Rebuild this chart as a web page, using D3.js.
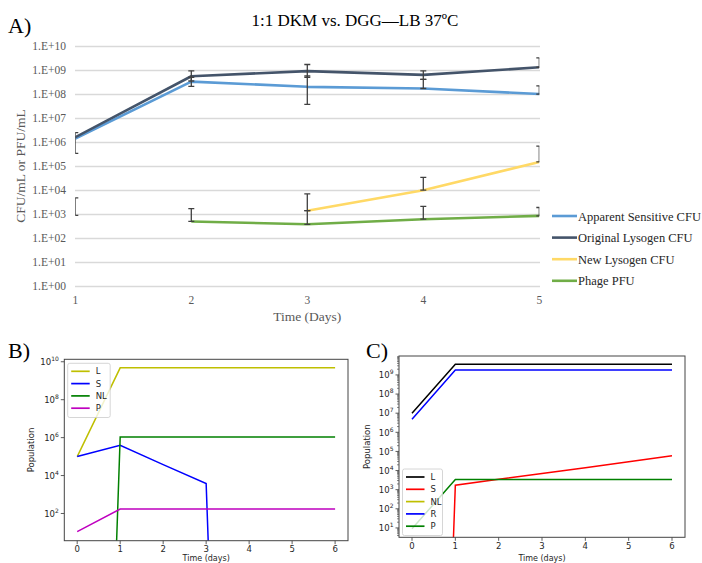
<!DOCTYPE html>
<html>
<head>
<meta charset="utf-8">
<script src="https://cdn.jsdelivr.net/npm/d3@7"></script>
<style>
  body { margin: 0; background: #fff; }
  svg { display: block; }
</style>
</head>
<body>
<div id="graph"></div>
<script>
// ---- panel A data (Excel chart) ----
var daysA = [1, 2, 3, 4, 5];
var sensitiveCFU = [1.4e6, 3.3e8, 2.0e8, 1.7e8, 1.0e8];
var lysogenCFU   = [1.6e6, 5.5e8, 9.0e8, 6.3e8, 1.3e9];
var newLysCFU    = [null, null, 1.4e3, 1.0e4, 1.5e5];
var phagePFU     = [null, 5.0e2, 3.8e2, 6.2e2, 8.5e2];
var seriesNamesA = ["Apparent Sensitive CFU", "Original Lysogen CFU", "New Lysogen CFU", "Phage PFU"];
var yTicksA = [1, 1e1, 1e2, 1e3, 1e4, 1e5, 1e6, 1e7, 1e8, 1e9, 1e10];

// error bars: day, low, high
var errDay  = [1, 1, 2, 2, 2, 3, 3, 3, 3, 4, 4, 4, 4, 5, 5, 5, 5];
var errLow  = [3.4e5, 9.0e2, 3.5e8, 2.1e8, 5.0e2, 5.0e8, 3.7e7, 1.4e3, 3.8e2, 4.1e8, 1.7e8, 1.0e4, 6.2e2, 1.3e9, 1.0e8, 1.5e5, 8.5e2];
var errHigh = [2.5e6, 4.8e3, 9.3e8, 5.0e8, 1.7e3, 1.7e9, 5.7e8, 7.0e3, 1.4e3, 9.3e8, 4.1e8, 3.4e4, 2.1e3, 3.2e9, 2.2e8, 6.8e5, 1.9e3];

// ---- panel B data (model, no resistance) ----
var daysB = [0, 1, 2, 3, 4, 5, 6];
var bL  = [1e5, 4.8e9, 4.8e9, 4.8e9, 4.8e9, 4.8e9, 4.8e9];
var bS  = [1e5, 3.9e5, 3.8e4, 3.8e3, 0, 0, 0];
var bNL = [0, 1.07e6, 1.07e6, 1.07e6, 1.07e6, 1.07e6, 1.07e6];
var bP  = [11, 170, 170, 170, 170, 170, 170];

// ---- panel C data (model with resistance) ----
var daysC = [0, 1, 2, 3, 4, 5, 6];
var cL  = [1e7, 3.6e9, 3.6e9, 3.6e9, 3.6e9, 3.6e9, 3.6e9];
var cS  = [0, 1.7e3, 3.5e3, 7.1e3, 1.4e4, 2.9e4, 5.9e4];
var cNL = [0, 0, 0, 0, 0, 0, 0];
var cR  = [4.8e6, 1.8e9, 1.8e9, 1.8e9, 1.8e9, 1.8e9, 1.8e9];
var cP  = [9, 3.4e3, 3.4e3, 3.4e3, 3.4e3, 3.4e3, 3.4e3];

var width = 702, height = 563;
var svg = d3.select("#graph").append("svg")
            .attr("width", width)
            .attr("height", height);
var defs = svg.append("defs");

/* ================= Panel A ================= */
var serif = "'Liberation Serif', 'Times New Roman', serif";
var xA = d3.scaleLinear().domain([1, 5]).range([75.3, 539.3]);
var yA = d3.scaleLog().domain([1, 1e10]).range([286.3, 46]);

svg.append("text").attr("x", 8).attr("y", 33)
   .style("font-family", serif).style("font-size", "22px").text("A)");
svg.append("text").attr("x", 355).attr("y", 26).attr("text-anchor", "middle")
   .style("font-family", serif).style("font-size", "17px").text("1:1 DKM vs. DGG\u2014LB 37\u00baC");

// grid
svg.append("g").selectAll("line").data(yTicksA).enter().append("line")
   .attr("x1", 75).attr("x2", 540)
   .attr("y1", function(d) { return Math.round(yA(d)) + 0.5; })
   .attr("y2", function(d) { return Math.round(yA(d)) + 0.5; })
   .style("stroke", "#d9d9d9").style("stroke-width", 1.3);

svg.append("g").selectAll("text").data(yTicksA).enter().append("text")
   .attr("x", 66).attr("y", function(d) { return yA(d) + 4; })
   .attr("text-anchor", "end")
   .style("font-family", serif).style("font-size", "11.5px").style("fill", "#595959")
   .text(function(d) { var e = Math.round(Math.log10(d)); return "1.E+" + (e < 10 ? "0" + e : e); });

svg.append("g").selectAll("text").data(daysA).enter().append("text")
   .attr("x", function(d) { return xA(d); }).attr("y", 304)
   .attr("text-anchor", "middle")
   .style("font-family", serif).style("font-size", "11.5px").style("fill", "#595959")
   .text(function(d) { return d; });

svg.append("text").attr("x", xA(3)).attr("y", 321).attr("text-anchor", "middle")
   .style("font-family", serif).style("font-size", "13.5px").style("fill", "#595959")
   .text("Time (Days)");
svg.append("text").attr("transform", "translate(25,166) rotate(-90)").attr("text-anchor", "middle")
   .style("font-family", serif).style("font-size", "13.5px").style("fill", "#595959")
   .text("CFU/mL or PFU/mL");

defs.append("clipPath").attr("id", "clipA").append("rect")
    .attr("x", xA(1)).attr("y", 30).attr("width", xA(5) - xA(1)).attr("height", 270);

var gA = svg.append("g").attr("clip-path", "url(#clipA)");
var colorsA = ["#5b9bd5", "#44546a", "#ffd966", "#70ad47"];
var valsA = [sensitiveCFU, lysogenCFU, newLysCFU, phagePFU];

var lineA = d3.line()
    .defined(function(d) { return d[1] != null; })
    .x(function(d) { return xA(d[0]); })
    .y(function(d) { return yA(d[1]); });

valsA.forEach(function(v, i) {
  gA.append("path")
    .datum(daysA.map(function(d, j) { return [d, v[j]]; }))
    .attr("d", lineA)
    .style("fill", "none").style("stroke", colorsA[i])
    .style("stroke-width", 2.6).style("stroke-linejoin", "round");
});

var eb = gA.append("g").style("stroke", "#404040").style("stroke-width", 1.3);
errDay.forEach(function(d, i) {
  var x = xA(d), y1 = yA(errLow[i]), y2 = yA(errHigh[i]);
  eb.append("line").attr("x1", x).attr("x2", x).attr("y1", y1).attr("y2", y2);
  eb.append("line").attr("x1", x - 3).attr("x2", x + 3).attr("y1", y1).attr("y2", y1);
  eb.append("line").attr("x1", x - 3).attr("x2", x + 3).attr("y1", y2).attr("y2", y2);
});

var legA = svg.append("g");
seriesNamesA.forEach(function(n, i) {
  var y = 216 + i * 21.6;
  legA.append("line").attr("x1", 552).attr("x2", 577).attr("y1", y).attr("y2", y)
      .style("stroke", colorsA[i]).style("stroke-width", 2.6);
  legA.append("text").attr("x", 578).attr("y", y + 4.5)
      .style("font-family", serif).style("font-size", "12.5px").style("fill", "#262626")
      .text(n);
});

/* ============ Panels B and C (matplotlib style) ============ */
var sans = "'DejaVu Sans', sans-serif";

function superLabel(sel, e) {
  sel.text("10");
  sel.append("tspan").attr("dy", -4).style("font-size", "6px").text(e);
}

function mplPanel(opt) {
  var x = d3.scaleLinear().domain([-0.3, 6.3]).range([opt.left, opt.right]);
  var y = d3.scaleLog().domain(opt.ydom).range([opt.bottom, opt.top]);
  var g = svg.append("g");

  defs.append("clipPath").attr("id", opt.id).append("rect")
      .attr("x", opt.left).attr("y", opt.top)
      .attr("width", opt.right - opt.left).attr("height", opt.bottom - opt.top);

  var line = d3.line()
      .x(function(d) { return x(d[0]); })
      .y(function(d) { return y(Math.max(d[1], 1e-60)); });

  var plot = g.append("g").attr("clip-path", "url(#" + opt.id + ")");
  opt.series.forEach(function(s, i) {
    plot.append("path")
      .datum(opt.days.map(function(d, j) { return [d, s[j]]; }))
      .attr("d", line)
      .style("fill", "none").style("stroke", opt.colors[i]).style("stroke-width", 1.5);
  });

  // minor ticks
  if (opt.minor) {
    var minors = [];
    for (var e = 0; e < 10; e++) for (var m = 2; m < 10; m++) {
      var v = m * Math.pow(10, e);
      if (v > opt.ydom[0] && v < opt.ydom[1]) minors.push(v);
    }
    g.append("g").selectAll("line").data(minors).enter().append("line")
     .attr("x1", opt.left - 2).attr("x2", opt.left)
     .attr("y1", function(d) { return y(d); }).attr("y2", function(d) { return y(d); })
     .style("stroke", "#333").style("stroke-width", 0.6);
  }

  // y major ticks
  g.append("g").selectAll("line").data(opt.yticks).enter().append("line")
   .attr("x1", opt.left - 3.5).attr("x2", opt.left)
   .attr("y1", function(d) { return y(d); }).attr("y2", function(d) { return y(d); })
   .style("stroke", "#333").style("stroke-width", 0.8);
  g.append("g").selectAll("text").data(opt.yticks).enter().append("text")
   .attr("x", opt.left - 5.5).attr("y", function(d) { return y(d) + 3.2; })
   .attr("text-anchor", "end")
   .style("font-family", sans).style("font-size", "8.5px").style("fill", "#262626")
   .each(function(d) { superLabel(d3.select(this), Math.round(Math.log10(d))); });

  // x ticks
  g.append("g").selectAll("line").data(opt.days).enter().append("line")
   .attr("x1", function(d) { return x(d); }).attr("x2", function(d) { return x(d); })
   .attr("y1", opt.bottom).attr("y2", opt.bottom + 3.5)
   .style("stroke", "#333").style("stroke-width", 0.8);
  g.append("g").selectAll("text").data(opt.days).enter().append("text")
   .attr("x", function(d) { return x(d); }).attr("y", opt.bottom + 11.5)
   .attr("text-anchor", "middle")
   .style("font-family", sans).style("font-size", "8.5px").style("fill", "#262626")
   .text(function(d) { return d; });

  g.append("rect").attr("x", opt.left).attr("y", opt.top)
   .attr("width", opt.right - opt.left).attr("height", opt.bottom - opt.top)
   .style("fill", "none").style("stroke", "#444").style("stroke-width", 1);

  g.append("text").attr("x", (opt.left + opt.right) / 2).attr("y", 561)
   .attr("text-anchor", "middle")
   .style("font-family", sans).style("font-size", "8px").style("fill", "#262626")
   .text("Time (days)");
  g.append("text")
   .attr("transform", "translate(" + opt.ylabX + "," + ((opt.top + opt.bottom) / 2) + ") rotate(-90)")
   .attr("text-anchor", "middle")
   .style("font-family", sans).style("font-size", "8.5px").style("fill", "#262626")
   .text("Population");

  // legend
  var lg = g.append("g");
  lg.append("rect").attr("x", opt.legX).attr("y", opt.legY)
    .attr("width", opt.legW).attr("height", opt.names.length * 12.3 + 5).attr("rx", 2)
    .style("fill", "#fff").style("fill-opacity", 0.8)
    .style("stroke", "#cccccc").style("stroke-width", 0.8);
  opt.names.forEach(function(n, i) {
    var ly = opt.legY + 8 + i * 12.3;
    lg.append("line").attr("x1", opt.legX + 3.5).attr("x2", opt.legX + 22)
      .attr("y1", ly).attr("y2", ly)
      .style("stroke", opt.colors[i]).style("stroke-width", 1.7);
    lg.append("text").attr("x", opt.legX + 28).attr("y", ly + 3)
      .style("font-family", sans).style("font-size", "8.5px").style("fill", "#262626")
      .text(n);
  });

  svg.append("text").attr("x", opt.tagX).attr("y", 358)
     .style("font-family", serif).style("font-size", "22px").text(opt.tag);
}

mplPanel({
  id: "clipB", tag: "B)", tagX: 8,
  left: 64.3, right: 348, top: 359.3, bottom: 540.7,
  ydom: [Math.pow(10, 0.565), Math.pow(10, 10.13)],
  yticks: [1e2, 1e4, 1e6, 1e8, 1e10], minor: false,
  days: daysB, series: [bL, bS, bNL, bP],
  names: ["L", "S", "NL", "P"],
  colors: ["#bfbf00", "#0000ff", "#008000", "#bf00bf"],
  legX: 67.7, legY: 363.3, legW: 42.5, ylabX: 34
});

mplPanel({
  id: "clipC", tag: "C)", tagX: 366,
  left: 399, right: 685, top: 356, bottom: 537.3,
  ydom: [Math.pow(10, 0.51), Math.pow(10, 9.99)],
  yticks: [1e1, 1e2, 1e3, 1e4, 1e5, 1e6, 1e7, 1e8, 1e9], minor: true,
  days: daysC, series: [cL, cS, cNL, cR, cP],
  names: ["L", "S", "NL", "R", "P"],
  colors: ["#000000", "#ff0000", "#bfbf00", "#0000ff", "#008000"],
  legX: 402.5, legY: 469, legW: 40, ylabX: 370
});
</script>
</body>
</html>
